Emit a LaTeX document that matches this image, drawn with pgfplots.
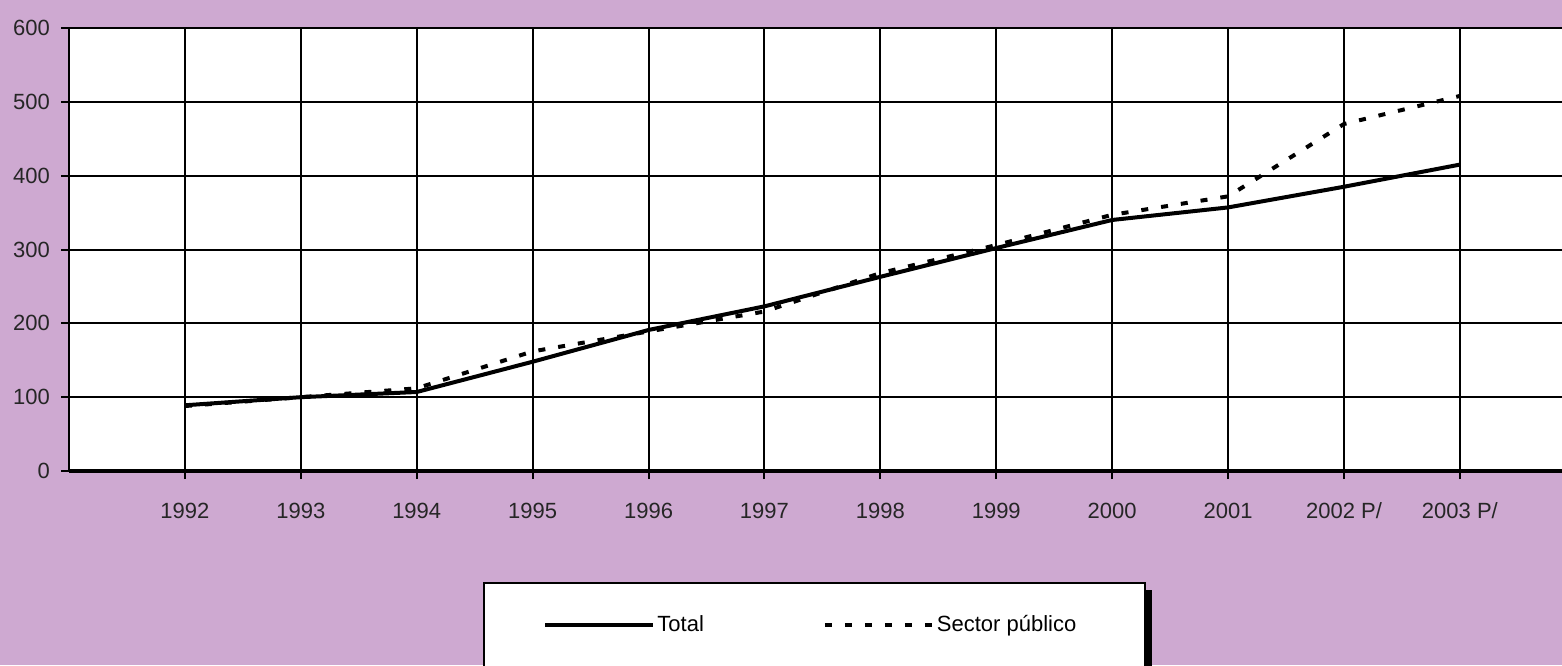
\documentclass[border=0pt]{standalone}
\usepackage{pgfplots}
\pgfplotsset{compat=1.18}
\usepackage{fontspec}
\setmainfont{Liberation Sans}
\definecolor{bgl}{RGB}{206,169,209}
\begin{document}
\begin{tikzpicture}[x=1pt,y=1pt]
\fill[bgl] (0,0) rectangle (781,332.5);
% legend frame with shadow
\fill[black] (572.5,-20) rectangle (576,37.5);
\filldraw[fill=white,draw=black,line width=0.8pt] (242,-20) rectangle (572.5,41);
\begin{axis}[
  at={(34.5pt,97pt)}, anchor=south west,
  scale only axis, width=753.4pt, height=221.5pt,
  xmin=0, xmax=13, ymin=0, ymax=600,
  axis background/.style={fill=white},
  xtick={1,2,3,4,5,6,7,8,9,10,11,12},
  xticklabels={1992,1993,1994,1995,1996,1997,1998,1999,2000,2001,2002 P/,2003 P/},
  ytick={0,100,200,300,400,500,600},
  xtick pos=bottom, ytick pos=left,
  tick align=outside, major tick length=4pt,
  tick style={black,line width=1pt},
  xmajorgrids, ymajorgrids,
  grid style={black,line width=1pt},
  axis line style={black,line width=1pt},
  axis x line*=bottom, axis y line*=left,
  ticklabel style={font=\fontsize{11}{13}\selectfont, text=black!85},
  /pgf/number format/assume math mode=true,
  yticklabel style={xshift=-2pt},
  xticklabel style={yshift=-8pt, text height=8pt, text depth=0pt},
  clip=false,
  legend columns=2,
  legend style={at={(axis description cs:0.3146,-0.3476)}, anchor=west,
    draw=none, fill=none, inner sep=0pt, column sep=0pt,
    font=\fontsize{11}{13}\selectfont,
    nodes={inner sep=1pt},
    /tikz/every even column/.append style={column sep=58.5pt}},
  legend image code/.code={\draw[#1] (0pt,0pt) -- (54pt,0pt);},
]
\draw[black,line width=1.6pt] (axis cs:0,0) -- (axis cs:13,0);
\addplot[black, line width=2pt] coordinates {
(1,89) (2,100) (3,107) (4,148) (5,191) (6,223) (7,263) (8,302) (9,340) (10,357) (11,385) (12,415)};
\addlegendentry{Total}
\addplot[black, line width=2pt, dash pattern=on 3.5pt off 6.5pt] coordinates {
(1,88) (2,100) (3,112) (4,162) (5,189) (6,216) (7,268) (8,306) (9,347) (10,372) (11,470) (12,508)};
\addlegendentry{Sector público}
\end{axis}
\pgfresetboundingbox
\useasboundingbox (0,0) rectangle (781,332.5);
\end{tikzpicture}
\end{document}
